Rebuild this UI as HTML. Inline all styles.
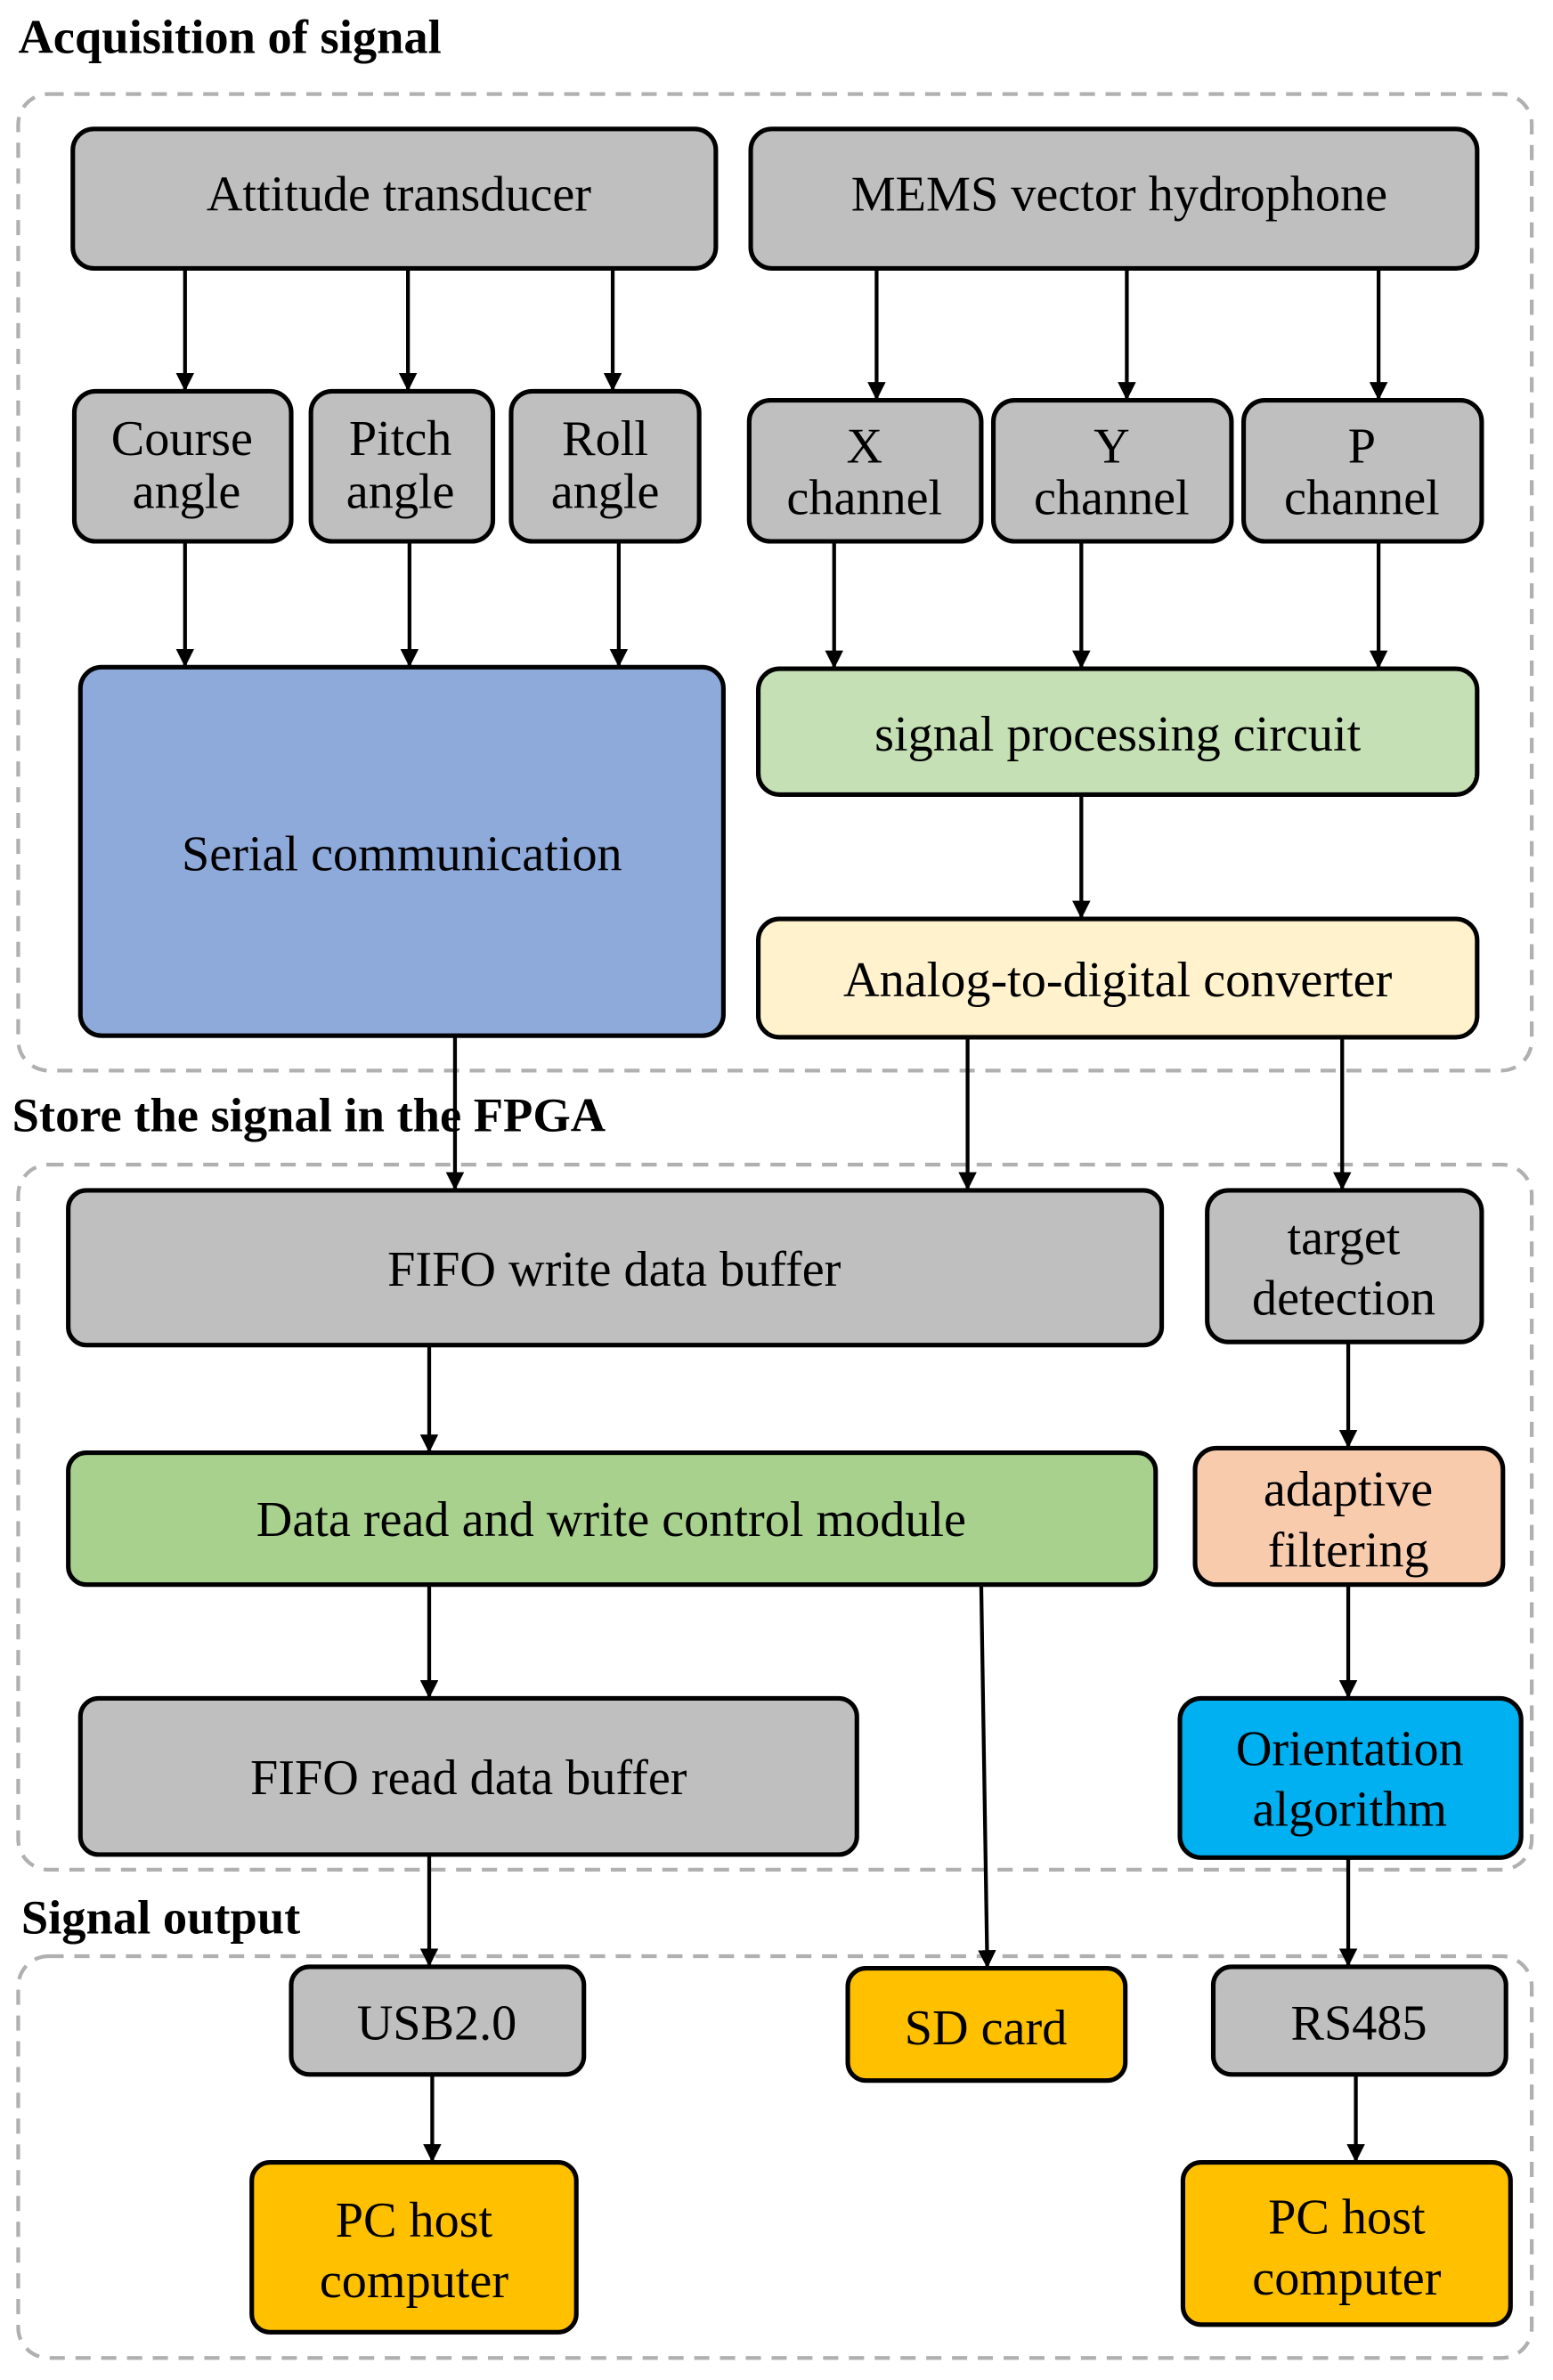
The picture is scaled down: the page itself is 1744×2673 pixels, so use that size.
<!DOCTYPE html>
<html><head><meta charset="utf-8"><style>body{margin:0;background:#fff}svg{display:block}text{font-family:"Liberation Serif","DejaVu Serif",serif}</style></head>
<body>
<svg width="1744" height="2673" viewBox="0 0 1024 1569.5" xmlns="http://www.w3.org/2000/svg">
<defs>
<marker id="ar" viewBox="0 0 12 12" refX="12" refY="6" markerWidth="12" markerHeight="12" orient="auto" markerUnits="userSpaceOnUse"><path d="M0,0 L12,6 L0,12 z" fill="#000"/></marker></defs>
<g font-weight="bold" font-size="32" fill="#000">
<text x="12" y="35">Acquisition of signal</text>
<text x="8" y="746">Store the signal in the FPGA</text>
<text x="14" y="1275">Signal output</text>
</g>
<g fill="none" stroke="#b0b0b0" stroke-width="2.5" stroke-dasharray="10,7">
<rect x="12" y="62" width="998" height="644" rx="20"/>
<rect x="12" y="768" width="998" height="465" rx="20"/>
<rect x="12" y="1290" width="998" height="265" rx="20"/>
</g>
<g stroke="#000" stroke-width="3">
<rect x="48" y="85" width="424" height="92" rx="14" fill="#bfbfbf"/>
<rect x="495" y="85" width="479" height="92" rx="14" fill="#bfbfbf"/>
<rect x="49" y="258" width="143" height="99" rx="14" fill="#bfbfbf"/>
<rect x="205" y="258" width="120" height="99" rx="14" fill="#bfbfbf"/>
<rect x="337" y="258" width="124" height="99" rx="14" fill="#bfbfbf"/>
<rect x="494" y="264" width="153" height="93" rx="14" fill="#bfbfbf"/>
<rect x="655" y="264" width="157" height="93" rx="14" fill="#bfbfbf"/>
<rect x="820" y="264" width="157" height="93" rx="14" fill="#bfbfbf"/>
<rect x="53" y="440" width="424" height="243" rx="14" fill="#8eaadb"/>
<rect x="500" y="441" width="474" height="83" rx="14" fill="#c5e0b4"/>
<rect x="500" y="606" width="474" height="78" rx="14" fill="#fff2cc"/>
<rect x="45" y="785" width="721" height="102" rx="12" fill="#bfbfbf"/>
<rect x="796" y="785" width="181" height="100" rx="14" fill="#bfbfbf"/>
<rect x="45" y="958" width="717" height="87" rx="12" fill="#a9d18e"/>
<rect x="788" y="955" width="203" height="90" rx="14" fill="#f8cbad"/>
<rect x="53" y="1120" width="512" height="103" rx="12" fill="#bfbfbf"/>
<rect x="778" y="1120" width="225" height="105" rx="14" fill="#00b0f0"/>
<rect x="192" y="1297" width="193" height="71" rx="12" fill="#bfbfbf"/>
<rect x="559" y="1298" width="183" height="74" rx="12" fill="#ffc000"/>
<rect x="800" y="1297" width="193" height="71" rx="12" fill="#bfbfbf"/>
<rect x="166" y="1426" width="214" height="112" rx="12" fill="#ffc000"/>
<rect x="780" y="1426" width="216" height="107" rx="12" fill="#ffc000"/>
</g>
<g stroke="#000" stroke-width="2.5" marker-end="url(#ar)">
<line x1="122" y1="177" x2="122" y2="258"/><line x1="269" y1="177" x2="269" y2="258"/><line x1="404" y1="177" x2="404" y2="258"/>
<line x1="578" y1="177" x2="578" y2="264"/><line x1="743" y1="177" x2="743" y2="264"/><line x1="909" y1="177" x2="909" y2="264"/>
<line x1="122" y1="357" x2="122" y2="440"/><line x1="270" y1="357" x2="270" y2="440"/><line x1="408" y1="357" x2="408" y2="440"/>
<line x1="550" y1="357" x2="550" y2="441"/><line x1="713" y1="357" x2="713" y2="441"/><line x1="909" y1="357" x2="909" y2="441"/>
<line x1="713" y1="524" x2="713" y2="606"/>
<line x1="300" y1="683" x2="300" y2="785"/><line x1="638" y1="684" x2="638" y2="785"/><line x1="885" y1="684" x2="885" y2="785"/>
<line x1="283" y1="887" x2="283" y2="958"/><line x1="889" y1="885" x2="889" y2="955"/>
<line x1="283" y1="1045" x2="283" y2="1120"/><line x1="889" y1="1045" x2="889" y2="1120"/>
<line x1="283" y1="1223" x2="283" y2="1297"/><line x1="647" y1="1045" x2="651" y2="1298"/><line x1="889" y1="1225" x2="889" y2="1297"/>
<line x1="285" y1="1368" x2="285" y2="1426"/><line x1="894" y1="1368" x2="894" y2="1426"/>
</g>
<g font-size="33" text-anchor="middle" fill="#000">
<text x="263" y="139">Attitude transducer</text>
<text x="738" y="139">MEMS vector hydrophone</text>
<text x="120" y="300">Course</text><text x="123" y="335">angle</text>
<text x="264" y="300">Pitch</text><text x="264" y="335">angle</text>
<text x="399" y="300">Roll</text><text x="399" y="335">angle</text>
<text x="570" y="305">X</text><text x="570" y="339">channel</text>
<text x="733" y="305">Y</text><text x="733" y="339">channel</text>
<text x="898" y="305">P</text><text x="898" y="339">channel</text>
<text x="265" y="574">Serial communication</text>
<text x="737" y="495">signal processing circuit</text>
<text x="737" y="657">Analog-to-digital converter</text>
<text x="405" y="848">FIFO write data buffer</text>
<text x="886" y="827">target</text><text x="886" y="867">detection</text>
<text x="403" y="1013">Data read and write control module</text>
<text x="889" y="993">adaptive</text><text x="889" y="1033">filtering</text>
<text x="309" y="1183">FIFO read data buffer</text>
<text x="890" y="1164">Orientation</text><text x="890" y="1204">algorithm</text>
<text x="288" y="1345">USB2.0</text>
<text x="650" y="1348">SD card</text>
<text x="896" y="1345">RS485</text>
<text x="273" y="1475">PC host</text><text x="273" y="1515">computer</text>
<text x="888" y="1473">PC host</text><text x="888" y="1513">computer</text>
</g>
</svg>
</body></html>
